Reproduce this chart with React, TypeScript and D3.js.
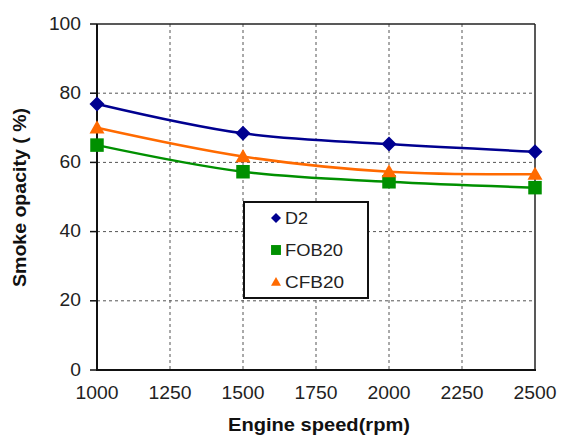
import React from "react";
import * as d3 from "d3";

const speeds = [1000, 1500, 2000, 2500];
const d2 = [76.9, 68.4, 65.3, 63.1];
const fob20 = [65.0, 57.3, 54.4, 52.7];
const cfb20 = [70.0, 61.7, 57.3, 56.6];
const xTicks = [1000, 1250, 1500, 1750, 2000, 2250, 2500];
const yTicks = [0, 20, 40, 60, 80, 100];

const W = 563, H = 436;
const L = 97, R = 535, T = 24, B = 370;

export default function App() {
  const x = d3.scaleLinear().domain([1000, 2500]).range([L, R]);
  const y = d3.scaleLinear().domain([0, 100]).range([B, T]);
  const line = d3
    .line<number>()
    .x((_, i) => x(speeds[i]))
    .y((v) => y(v))
    .curve(d3.curveCatmullRom.alpha(0.5));

  const series = [
    { name: "D2", values: d2, color: "#000090", shape: "diamond", len: 23 },
    { name: "FOB20", values: fob20, color: "#009000", shape: "square", len: 58 },
    { name: "CFB20", values: cfb20, color: "#ff6a00", shape: "triangle", len: 59 },
  ];

  const marker = (shape: string, cx: number, cy: number, color: string, s: number) => {
    if (shape === "diamond") {
      const r = s * 0.5;
      return <path d={`M${cx},${cy - r}L${cx + r},${cy}L${cx},${cy + r}L${cx - r},${cy}Z`} fill={color} />;
    }
    if (shape === "square") {
      const h = s * 0.45;
      return <rect x={cx - h} y={cy - h} width={2 * h} height={2 * h} fill={color} />;
    }
    const h = s * 0.5;
    return <path d={`M${cx},${cy - h}L${cx + h},${cy + h * 0.75}L${cx - h},${cy + h * 0.75}Z`} fill={color} />;
  };

  const font = "Arial, 'Liberation Sans', sans-serif";

  return (
    <svg width={W} height={H} style={{ position: "absolute", left: 0, top: 0, background: "#fff" }} fontFamily={font}>
      <rect x={0} y={0} width={W} height={H} fill="#fff" />
      {/* grid */}
      {xTicks.slice(1, -1).map((t) => (
        <line key={"gx" + t} x1={x(t)} x2={x(t)} y1={T} y2={B} stroke="#555" strokeWidth={1} strokeDasharray="3,3" />
      ))}
      {yTicks.slice(1, -1).map((t) => (
        <line key={"gy" + t} x1={L} x2={R} y1={y(t)} y2={y(t)} stroke="#555" strokeWidth={1} strokeDasharray="3,3" />
      ))}
      {/* frame */}
      <line x1={L} x2={R} y1={T} y2={T} stroke="#222" strokeWidth={1.5} />
      <line x1={R} x2={R} y1={T} y2={B} stroke="#222" strokeWidth={1.5} />
      <line x1={L} x2={L} y1={T} y2={B + 1} stroke="#111" strokeWidth={2} />
      <line x1={L - 1} x2={R + 1} y1={B} y2={B} stroke="#111" strokeWidth={2} />
      {/* y ticks */}
      {yTicks.map((t) => (
        <g key={"yt" + t}>
          <line x1={L - 7} x2={L} y1={y(t)} y2={y(t)} stroke="#111" strokeWidth={1.5} />
          <text x={81} y={y(t) + 5.5} textAnchor="end" fontSize={18} fill="#222"
            textLength={String(t).length * 10.7} lengthAdjust="spacingAndGlyphs">
            {t}
          </text>
        </g>
      ))}
      {xTicks.map((t) => (
        <text key={"xt" + t} x={x(t)} y={398.5} textAnchor="middle" fontSize={18.5} fill="#222"
          textLength={43} lengthAdjust="spacingAndGlyphs">
          {t}
        </text>
      ))}
      {/* series */}
      {series.map((s) => (
        <g key={s.name}>
          <path d={line(s.values) || ""} fill="none" stroke={s.color} strokeWidth={2.5} />
          {s.values.map((v, i) => (
            <g key={i}>{marker(s.shape, x(speeds[i]), y(v), s.color, s.shape === "diamond" ? 15 : s.shape === "square" ? 15 : 15)}</g>
          ))}
        </g>
      ))}
      {/* legend */}
      <rect x={244} y={202} width={124} height={96} fill="#fff" stroke="#111" strokeWidth={2} />
      {series.map((s, i) => (
        <g key={"lg" + s.name}>
          {marker(s.shape, 276, 218 + i * 32, s.color, s.shape === "diamond" ? 10 : s.shape === "square" ? 11 : 10)}
          <text x={285} y={224 + i * 32} fontSize={16} fill="#222" textLength={s.len} lengthAdjust="spacingAndGlyphs">
            {s.name}
          </text>
        </g>
      ))}
      {/* axis titles */}
      <text x={319} y={431} textAnchor="middle" fontSize={17.5} fontWeight="bold" fill="#111"
        textLength={182} lengthAdjust="spacingAndGlyphs">
        Engine speed(rpm)
      </text>
      <text
        transform={`translate(26,${197.5}) rotate(-90)`}
        textAnchor="middle"
        fontSize={17.5}
        fontWeight="bold"
        fill="#111"
        textLength={179}
        lengthAdjust="spacingAndGlyphs"
      >
        Smoke opacity ( %)
      </text>
    </svg>
  );
}
